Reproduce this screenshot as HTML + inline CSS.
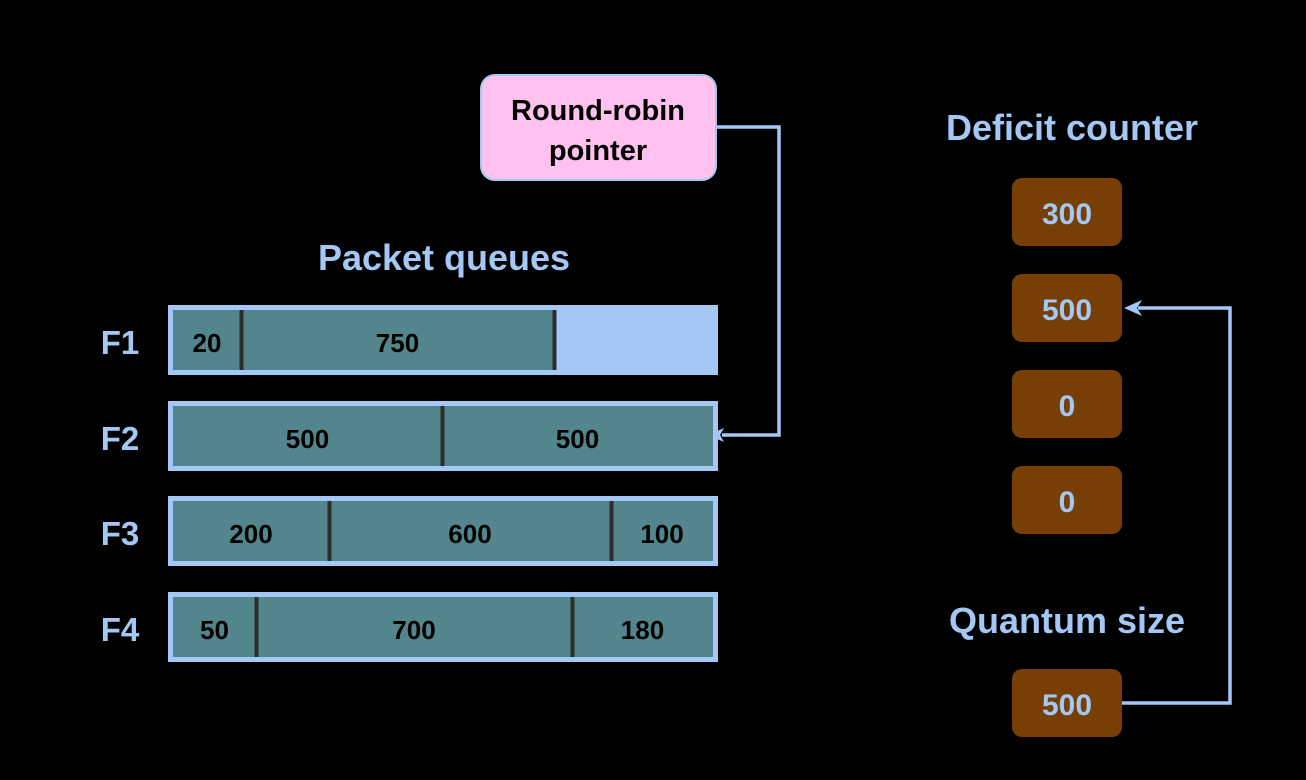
<!DOCTYPE html>
<html><head><meta charset="utf-8"><style>
html,body{margin:0;padding:0;background:#000;}
svg{display:block;font-family:"Liberation Sans",Arial,sans-serif;font-weight:bold;}
</style></head><body>
<svg width="1306" height="780" viewBox="0 0 1306 780">
<rect width="1306" height="780" fill="#000"/>
<g>
<rect x="481" y="75" width="235" height="105" rx="14" fill="#ffc1ee" stroke="#a3c8f5" stroke-width="2"/>
<text x="598" y="120" text-anchor="middle" font-size="29" fill="#000">Round-robin</text>
<text x="598" y="160" text-anchor="middle" font-size="29" fill="#000">pointer</text>
</g>
<g>
<polyline points="716,127 779,127 779,435 722,435" fill="none" stroke="#a3c8f5" stroke-width="3.5"/>
<polygon points="708,435 724,428 720,435 724,442" fill="#a3c8f5"/>
</g>
<text x="444" y="270" text-anchor="middle" font-size="36" fill="#a3c8f5">Packet queues</text>
<text x="1072" y="140" text-anchor="middle" font-size="36" fill="#a3c8f5">Deficit counter</text>
<text x="1067" y="633" text-anchor="middle" font-size="36" fill="#a3c8f5">Quantum size</text>
<g id="queues"></g>
<g id="counters"></g>
<g>
<polyline points="1122,703 1230,703 1230,308 1138,308" fill="none" stroke="#a3c8f5" stroke-width="3.5"/>
<polygon points="1124,308 1142,300 1137,308 1142,316" fill="#a3c8f5"/>
</g>
</svg>
<script>
const flows=["F1","F2","F3","F4"];
const segValues=[[20,750],[500,500],[200,600,100],[50,700,180]];
const segEnds=[[241,554],[442,713],[329,611,713],[256,572,713]];
const deficits=[300,500,0,0];
const quantum=500;
const NS="http://www.w3.org/2000/svg";
function mk(t,a,p){const e=document.createElementNS(NS,t);for(const k in a)e.setAttribute(k,a[k]);p.appendChild(e);return e;}
const q=document.getElementById('queues');
const rowY=[305,401,496,592];
flows.forEach((f,i)=>{
  const y=rowY[i];
  const g=mk('g',{},q);
  
  
  const lab=mk('text',{x:120,y:y+49,'text-anchor':'middle','font-size':33,fill:'#a3c8f5'},g);lab.textContent=f;
  
  
  mk('rect',{x:168,y:y,width:550,height:70,fill:'#a3c8f5'},g);
  let x0=173;
  const ends=segEnds[i];
  mk('rect',{x:173,y:y+5,width:ends[ends.length-1]-173,height:60,fill:'#52868c'},g);
  segValues[i].forEach((v,j)=>{
    const x1=ends[j];
    const t=mk('text',{x:(x0+x1)/2,y:y+47,'text-anchor':'middle','font-size':26,fill:'#000'},g);t.textContent=v;
    
    
    if(x1<713){const d=mk('rect',{x:x1-1.5,y:y+5,width:4,height:60,fill:'#2b2e2a'},g);
      
      }
    x0=x1;
  });
});
const c=document.getElementById('counters');
function box(y,v,name){
  const g=mk('g',{},c);
  
  
  mk('rect',{x:1012,y:y,width:110,height:68,rx:10,fill:'#783f04'},g);
  const t=mk('text',{x:1067,y:y+46,'text-anchor':'middle','font-size':30,fill:'#a3c8f5'},g);t.textContent=v;
}
deficits.forEach((v,i)=>box(178+i*96,v,'deficit-counter-'+(i+1)));
box(669,quantum,'quantum-size-box');
</script>
</body></html>
